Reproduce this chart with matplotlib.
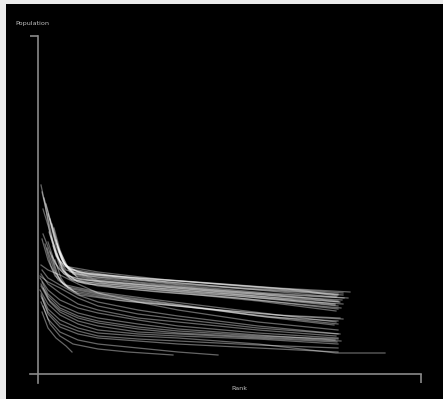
import numpy as np
import matplotlib
matplotlib.use("Agg")
import matplotlib.pyplot as plt

# rank / population curves (units ~ pixels from origin)
upper_curves = [
    [(3, 189), (7, 170), (12, 140), (18, 118), (26, 108), (60, 102), (120, 95), (200, 88), (300, 80)],
    [(4, 182), (9, 160), (15, 132), (22, 113), (32, 105), (70, 99), (130, 92), (210, 85), (305, 79)],
    [(6, 176), (12, 154), (18, 128), (26, 110), (40, 102), (80, 97), (140, 90), (220, 84), (298, 77)],
    [(8, 170), (14, 148), (21, 124), (30, 107), (45, 100), (90, 95), (150, 88), (230, 81), (310, 76)],
    [(5, 165), (12, 142), (19, 118), (28, 104), (50, 98), (100, 92), (160, 86), (240, 79), (300, 73)],
    [(10, 160), (16, 138), (23, 116), (32, 102), (55, 96), (110, 90), (170, 84), (250, 77), (302, 72)],
    [(12, 155), (18, 132), (25, 113), (35, 100), (60, 94), (115, 88), (180, 82), (250, 75), (297, 70)],
    [(14, 150), (20, 128), (27, 110), (38, 98), (65, 92), (120, 86), (190, 80), (260, 73), (305, 70)],
    [(16, 146), (22, 124), (29, 107), (40, 96), (70, 90), (130, 84), (200, 78), (270, 71), (300, 68)],
    [(5, 140), (12, 122), (20, 106), (32, 95), (60, 88), (120, 82), (200, 76), (260, 70), (303, 66)],
    [(11, 142), (18, 120), (26, 103), (37, 94), (75, 88), (140, 82), (210, 75), (300, 65)],
    [(13, 138), (20, 116), (28, 101), (40, 92), (80, 86), (150, 80), (220, 73), (298, 63)],
    [(4, 135), (10, 114), (17, 98), (28, 89), (60, 82), (120, 74), (200, 64), (298, 52)],
    [(7, 130), (13, 108), (20, 94), (30, 87), (65, 80), (130, 71), (210, 60), (300, 50)],
    [(9, 126), (16, 104), (23, 92), (34, 85), (70, 78), (140, 69), (220, 58), (296, 49)],
    [(12, 122), (18, 101), (25, 90), (36, 83), (75, 76), (150, 67), (230, 57), (300, 53)],
    [(14, 118), (20, 98), (27, 88), (39, 81), (80, 74), (160, 66), (240, 59), (302, 56)],
    [(17, 114), (23, 96), (30, 86), (42, 79), (85, 73), (170, 65), (250, 58), (305, 55)],
    [(18, 134), (24, 114), (31, 105), (47, 101), (90, 97), (160, 92), (240, 86), (312, 82)],
    [(19, 130), (26, 111), (34, 104), (52, 100), (100, 96), (170, 91), (250, 85), (305, 81)],
    [(20, 126), (27, 109), (36, 102), (56, 99), (110, 95), (180, 90), (260, 84), (300, 79)],
    [(21, 122), (28, 107), (38, 100), (60, 97), (120, 93), (190, 87), (270, 82), (299, 78)],
    [(15, 128), (22, 107), (30, 98), (44, 94), (90, 90), (160, 84), (240, 78), (304, 74)],
    [(17, 124), (24, 105), (32, 96), (46, 92), (95, 88), (165, 82), (245, 76), (301, 72)],
    [(19, 120), (25, 103), (34, 94), (48, 90), (100, 86), (170, 80), (250, 74), (297, 69)],
    [(10, 132), (17, 111), (26, 100), (41, 95), (85, 91), (150, 86), (230, 80), (306, 76)],
]

lower_curves = [
    [(3, 109), (10, 104), (22, 99), (40, 90), (60, 81), (100, 72), (140, 64), (220, 52), (300, 44)],
    [(4, 104), (10, 96), (22, 89), (40, 79), (60, 72), (100, 64), (140, 58), (220, 48), (302, 40)],
    [(3, 100), (10, 90), (22, 81), (40, 70), (60, 64), (100, 56), (140, 52), (220, 44), (298, 38)],
    [(2, 96), (10, 84), (22, 74), (40, 66), (60, 61), (100, 54), (140, 48), (220, 41), (300, 36)],
    [(4, 92), (10, 80), (22, 69), (40, 61), (60, 56), (100, 50), (140, 45), (220, 39), (297, 34)],
    [(3, 88), (10, 75), (22, 64), (40, 56), (60, 51), (100, 45), (140, 41), (220, 37), (303, 33)],
    [(2, 84), (10, 70), (22, 59), (40, 50), (60, 44), (100, 40), (140, 38), (220, 35), (300, 30)],
    [(3, 80), (10, 65), (22, 54), (40, 46), (60, 41), (100, 38), (140, 36), (220, 30), (298, 21), (347, 21)],
    [(4, 76), (10, 60), (22, 47), (40, 40), (60, 36), (100, 33), (140, 30), (220, 26), (300, 22)],
    [(3, 72), (10, 55), (22, 42), (40, 34), (60, 30), (100, 26), (140, 22), (180, 19)],
    [(5, 68), (12, 50), (22, 38), (35, 30), (60, 25), (90, 22), (135, 19)],
    [(4, 62), (10, 46), (18, 36), (28, 28), (34, 22)],
    [(2, 98), (10, 92), (22, 86), (40, 76), (60, 68), (100, 60), (140, 55), (220, 46), (300, 40)],
    [(3, 90), (10, 78), (22, 66), (40, 58), (60, 53), (100, 47), (140, 43), (220, 38), (300, 35)],
    [(5, 86), (12, 72), (22, 62), (40, 53), (60, 48), (100, 42), (140, 40), (220, 36), (299, 32)],
    [(3, 78), (10, 62), (22, 50), (40, 43), (60, 38), (100, 35), (140, 33), (220, 29), (300, 26)],
]

axis_color = '#8a8a8a'

fig = plt.figure(figsize=(4.43, 3.99), dpi=100)
fig.patch.set_facecolor('#ececec')
ax = fig.add_axes([6 / 443, 0, 437 / 443, 395 / 399])
ax.set_facecolor('black')

for curve in upper_curves + lower_curves:
    pts = np.array(curve)
    ax.plot(pts[:, 0], pts[:, 1], color='white', alpha=0.4, lw=0.9,
            solid_joinstyle='miter')

ax.set_xlim(-32, 405)
ax.set_ylim(-25, 370)

for s in ['top', 'right']:
    ax.spines[s].set_visible(False)
ax.spines['left'].set_position(('data', 0))
ax.spines['bottom'].set_position(('data', 0))
ax.spines['left'].set_bounds(-9, 338)
ax.spines['bottom'].set_bounds(-8, 383)
for s in ['left', 'bottom']:
    ax.spines[s].set_color(axis_color)
    ax.spines[s].set_linewidth(1.2)

ax.set_yticks([338])
ax.set_xticks([383])
ax.set_yticklabels([])
ax.set_xticklabels([])
ax.tick_params(axis='y', direction='out', length=5.8, width=1.2, color=axis_color)
ax.tick_params(axis='x', direction='out', length=6.5, width=1.2, color=axis_color)

fig.text(15 / 443, 1 - 23 / 399, 'Population', color='#c0c0c0', fontsize=4.6,
         ha='left', va='center')
fig.text(239 / 443, 1 - 388 / 399, 'Rank', color='#c0c0c0', fontsize=4.6,
         ha='center', va='center')

fig.savefig('out.png', dpi=100, facecolor=fig.get_facecolor())
